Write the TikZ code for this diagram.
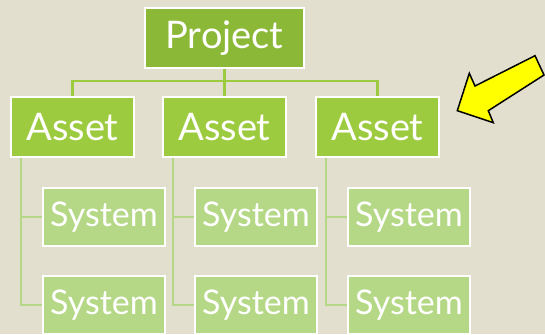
\documentclass[tikz,border=0pt]{standalone}
\usepackage{fontspec}
\setmainfont{Lato}
\definecolor{bgbeige}{RGB}{226,223,206}
\definecolor{projgreen}{RGB}{140,184,56}
\definecolor{assetgreen}{RGB}{157,203,63}
\definecolor{sysgreen}{RGB}{181,216,134}
\definecolor{markyellow}{RGB}{255,255,0}
\tikzset{
  box/.style={draw=white, line width=2pt, text=white, inner sep=0pt, font=\fontsize{38}{40}\selectfont},
  projbox/.style={box, fill=projgreen, minimum width=159pt, minimum height=60pt},
  assetbox/.style={box, fill=assetgreen, minimum width=123pt, minimum height=60pt},
  sysbox/.style={box, fill=sysgreen, minimum width=122pt, minimum height=58pt, font=\fontsize{34}{36}\selectfont},
  bus/.style={draw=assetgreen, line width=2.2pt},
  spine/.style={draw=sysgreen, line width=2.2pt},
  pointer/.style={draw=black, fill=markyellow, line width=1.5pt, line join=miter},
}
\begin{document}
\begin{tikzpicture}[x=1pt,y=-1pt]
\useasboundingbox[fill=bgbeige] (0,0) rectangle (545,334);
\node[projbox] (project) at (224.5,38) {Project};
\coordinate (bus) at (224.5,81); % edit here for the bus height
\foreach \i/\x in {1/72.5,2/224.5,3/377.5}{
  \node[assetbox] (asset\i) at (\x,127) {Asset};
  \draw[bus] (project.south) -- (bus) -| (asset\i.north);
  \foreach \j/\y in {1/217,2/305} % two systems under each asset
  {
    \node[sysbox] (sys\i\j) at (\x+31.5,\y) {System};
    \draw[spine] ([xshift=11pt]asset\i.south west) |- (sys\i\j.west);
  }
}
\draw[pointer] (457.3,110.7) -- (469.3,73.3) -- (475,86) -- (535,55.7)
  -- (544,75) -- (488.3,110.7) -- (493.3,122.7) -- cycle;
\end{tikzpicture}
\end{document}
